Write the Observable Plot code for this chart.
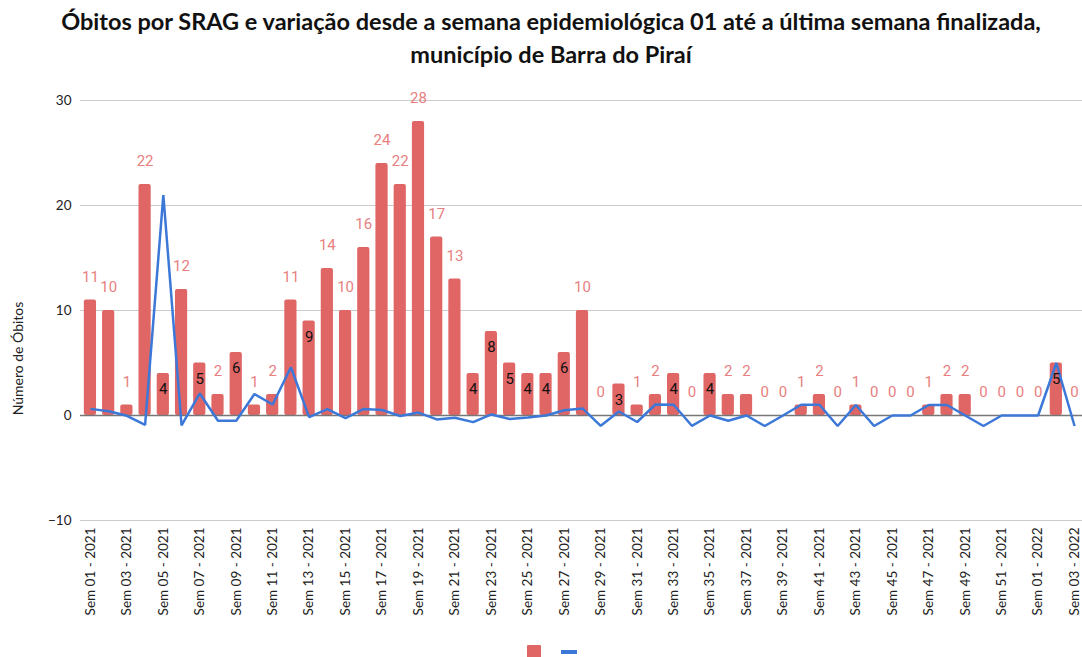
<!DOCTYPE html>
<html>
<head>
<meta charset="utf-8">
<script src="https://cdn.jsdelivr.net/npm/d3@7"></script>
<script src="https://cdn.jsdelivr.net/npm/@observablehq/plot@0.6"></script>
<style>
  html, body { margin: 0; padding: 0; background: #fff; }
  #wrap { position: relative; width: 1082px; height: 657px; overflow: hidden; }
  #title { position: absolute; left: 20px; top: 5px; width: 1062px; text-align: center;
    font-family: Lato, sans-serif; font-weight: bold; font-size: 23.5px; line-height: 33px; color: #111; }
  #chart { position: absolute; left: 0; top: 80px; }
  .lg { position: absolute; }
</style>
</head>
<body>
<div id="wrap">
  <div id="title">Óbitos por SRAG e variação desde a semana epidemiológica 01 até a última semana finalizada,<br>município de Barra do Piraí</div>
  <div id="chart"></div>
  <div class="lg" style="left:527px; top:645px; width:14px; height:14px; background:#e06666; border-radius:1px;"></div>
  <div class="lg" style="left:561px; top:650px; width:16px; height:4px; background:#3c78d8;"></div>
</div>
<script>
const weeks = [
  "Sem 01 - 2021","Sem 02 - 2021","Sem 03 - 2021","Sem 04 - 2021","Sem 05 - 2021","Sem 06 - 2021","Sem 07 - 2021","Sem 08 - 2021","Sem 09 - 2021","Sem 10 - 2021",
  "Sem 11 - 2021","Sem 12 - 2021","Sem 13 - 2021","Sem 14 - 2021","Sem 15 - 2021","Sem 16 - 2021","Sem 17 - 2021","Sem 18 - 2021","Sem 19 - 2021","Sem 20 - 2021",
  "Sem 21 - 2021","Sem 22 - 2021","Sem 23 - 2021","Sem 24 - 2021","Sem 25 - 2021","Sem 26 - 2021","Sem 27 - 2021","Sem 28 - 2021","Sem 29 - 2021","Sem 30 - 2021",
  "Sem 31 - 2021","Sem 32 - 2021","Sem 33 - 2021","Sem 34 - 2021","Sem 35 - 2021","Sem 36 - 2021","Sem 37 - 2021","Sem 38 - 2021","Sem 39 - 2021","Sem 40 - 2021",
  "Sem 41 - 2021","Sem 42 - 2021","Sem 43 - 2021","Sem 44 - 2021","Sem 45 - 2021","Sem 46 - 2021","Sem 47 - 2021","Sem 48 - 2021","Sem 49 - 2021","Sem 50 - 2021",
  "Sem 51 - 2021","Sem 52 - 2021","Sem 01 - 2022","Sem 02 - 2022","Sem 03 - 2022"
];
const obitos = [
  11,10,1,22,4,12,5,2,6,1,
  2,11,9,14,10,16,24,22,28,17,
  13,4,8,5,4,4,6,10,0,3,
  1,2,4,0,4,2,2,0,0,1,
  2,0,1,0,0,0,1,2,2,0,
  0,0,0,5,0
];
const variacao = [
  0.63,0.4,-0.03,-0.89,21,-0.95,2.1,-0.5,-0.5,2.05,
  1.05,4.6,-0.16,0.6,-0.25,0.62,0.52,-0.05,0.28,-0.37,
  -0.22,-0.63,0.1,-0.33,-0.2,0,0.5,0.67,-0.98,0.38,
  -0.62,1.05,1.02,-0.98,0,-0.5,0,-1,0,1.02,
  1.02,-1,1,-1,0,0,1,1,0,-1,
  0,0,0,5,-1
];
// weeks (1-based position) whose value label sits inside the bar
const insideLabels = [5,7,9,13,22,23,24,25,26,27,30,33,35,54];
const yTicks = [-10, 0, 10, 20, 30];
const xTicks = weeks.filter((d, i) => i % 2 === 0);
const yTitle = "Número de Óbitos";

const data = weeks.map((w, i) => ({week: w, obitos: obitos[i], variacao: variacao[i], inside: insideLabels.includes(i + 1)}));

const chart = Plot.plot({
  width: 1082,
  height: 540,
  marginLeft: 80,
  marginRight: 0,
  marginTop: 20,
  marginBottom: 100,
  style: {fontFamily: "Lato, sans-serif", fontSize: "13px", color: "#222", overflow: "hidden", background: "#fff"},
  x: {type: "band", domain: weeks, range: [80, 1084], round: false, paddingInner: 0.33, paddingOuter: 0.21, label: null},
  y: {domain: [-10, 30], label: null},
  marks: [
    Plot.ruleY(yTicks.filter(d => d !== 0), {stroke: "#cccccc", strokeWidth: 1}),
    Plot.barY(data, {x: "week", y: "obitos", fill: "#e06666", rx: 2}),
    Plot.ruleY([0], {stroke: "#777777", strokeWidth: 1.5}),
    Plot.line(data, {x: "week", y: "variacao", stroke: "#3c78d8", strokeWidth: 2.5, strokeLinejoin: "miter", strokeLinecap: "butt"}),
    Plot.text(data.filter(d => !d.inside), {x: "week", y: "obitos", text: d => String(d.obitos), dy: -23, fill: "#e88080", fontFamily: "Roboto", fontSize: 15}),
    Plot.text(data.filter(d => d.inside), {x: "week", y: "obitos", text: d => String(d.obitos), dy: 16, fill: "#111", fontFamily: "Roboto", fontSize: 15}),
    Plot.axisY({ticks: yTicks, tickSize: 0, tickPadding: 9, fontSize: 13.5, label: null}),
    Plot.axisX({ticks: xTicks, tickSize: 0, tickRotate: -90, tickPadding: 7, fontSize: 13.5, label: null}),
    Plot.text([yTitle], {frameAnchor: "left", textAnchor: "middle", rotate: -90, dx: -62, dy: 48, fontSize: 14, fill: "#222"})
  ]
});
document.getElementById("chart").appendChild(chart);
</script>
</body>
</html>
